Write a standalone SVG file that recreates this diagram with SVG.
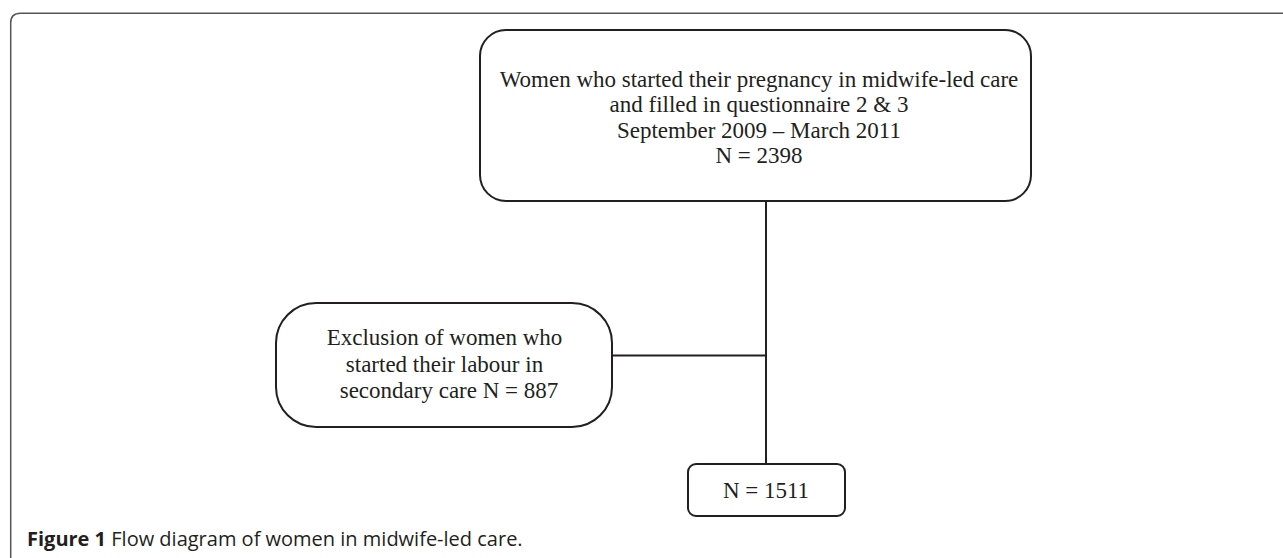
<svg xmlns="http://www.w3.org/2000/svg" width="1283" height="558" viewBox="0 0 1283 558">
<style>
.box{fill:#fff;stroke:#231f20;stroke-width:2}
.t{font-family:"Liberation Serif","Times New Roman",serif;font-size:23px;fill:#231f20;text-anchor:middle}
.conn line{stroke:#231f20;stroke-width:2}
.cap{font-family:"Open Sans","Liberation Sans",Arial,sans-serif;font-size:20px;fill:#231f20}
</style>
<rect width="1283" height="558" fill="#fff"/>
<path d="M10.7 558 V23 Q10.7 13.3 20.5 13.3 H1283" fill="none" stroke="#555" stroke-width="1.5"/>
<g class="conn">
<line x1="766" y1="201" x2="766" y2="464"/>
<line x1="612" y1="355.5" x2="766" y2="355.5"/>
</g>
<g id="n1">
<rect class="box" x="480" y="30" width="551" height="171" rx="26"/>
<text class="t" x="759" y="87">Women who started their pregnancy in midwife-led care</text>
<text class="t" x="759" y="112">and filled in questionnaire 2 &amp; 3</text>
<text class="t" x="759" y="138">September 2009 – March 2011</text>
<text class="t" x="759" y="163">N = 2398</text>
</g>
<g id="n2">
<rect class="box" x="276" y="303" width="336" height="124" rx="40"/>
<text class="t" x="444.5" y="345">Exclusion of women who</text>
<text class="t" x="444.5" y="372">started their labour in</text>
<text class="t" x="449" y="398">secondary care N = 887</text>
</g>
<g id="n3">
<rect class="box" x="688" y="464" width="157" height="52" rx="8"/>
<text class="t" x="766" y="498">N = 1511</text>
</g>
<text class="cap" x="27" y="546"><tspan font-weight="bold">Figure 1</tspan> Flow diagram of women in midwife-led care.</text>
</svg>
